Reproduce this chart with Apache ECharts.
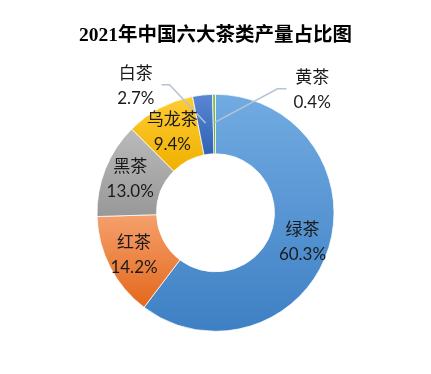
<!DOCTYPE html>
<html>
<head>
<meta charset="utf-8">
<script src="https://cdn.jsdelivr.net/npm/echarts@6/dist/echarts.min.js"></script>
<style>
html,body{margin:0;padding:0;background:#fff;}
#c{width:431px;height:374px;}
</style>
</head>
<body>
<div id="c"></div>
<script>
// ---- data ----
const titleText = '2021年中国六大茶类产量占比图';
const categories = ['绿茶', '红茶', '黑茶', '乌龙茶', '白茶', '黄茶'];
const shares = [60.3, 14.2, 13.0, 9.4, 2.7, 0.4];

// ---- styles ----
const gradTop = ['#72abe2', '#f5a06c', '#bababa', '#ffcc33', '#5a86d4', '#84c35c'];
const gradBot = ['#3e80c4', '#e3681c', '#989898', '#efb000', '#3062b4', '#5c9c38'];
const outsideIdx = [4, 5];
const CENTER = [0.5, 0.569];
const R_IN = 59, R_OUT = 118.5;
// label leader offsets relative to pie center: [elbowDx, elbowDy, endDx, endDy]
const leaders = {
  4: [-46, -128, -54, -128],
  5: [62, -124, 71, -124]
};
const labelFont = {
  fontFamily: "Lato, 'Noto Sans CJK SC'",
  fontSize: 17,
  lineHeight: 25,
  color: '#1a1a1a',
  align: 'center'
};

const chart = echarts.init(document.getElementById('c'), null, {renderer: 'canvas'});
const total = shares.reduce((a, b) => a + b, 0);
const fmt = p => p.name + '\n' + p.value.toFixed(1) + '%';

const baseData = categories.map((name, i) => ({
  name: name,
  value: shares[i],
  itemStyle: {
    color: new echarts.graphic.LinearGradient(0, 0, 0, 1, [
      {offset: 0, color: gradTop[i]},
      {offset: 1, color: gradBot[i]}
    ])
  }
}));

const overlayData = categories.map((name, i) => {
  const out = outsideIdx.includes(i);
  return {
    name: name,
    value: shares[i],
    label: {position: out ? 'outside' : 'inside'},
    labelLine: {show: out}
  };
});

function midAngle(idx) {
  let cum = 0;
  for (let i = 0; i < idx; i++) cum += shares[i];
  return ((cum + shares[idx] / 2) / total) * Math.PI * 2; // clockwise from top
}

const center = [(CENTER[0] * 100) + '%', (CENTER[1] * 100) + '%'];

chart.setOption({
  backgroundColor: '#ffffff',
  animation: false,
  title: {
    text: titleText,
    left: 'center',
    top: 21,
    textStyle: {
      fontFamily: "'Liberation Serif', 'Noto Sans CJK SC'",
      fontWeight: 'bold',
      fontSize: 19.5,
      color: '#000'
    }
  },
  series: [{
    type: 'pie',
    center: center,
    radius: [R_IN, R_OUT],
    startAngle: 90,
    clockwise: true,
    avoidLabelOverlap: false,
    itemStyle: {borderColor: '#ffffff', borderWidth: 0.75},
    label: {show: false},
    labelLine: {show: false},
    data: baseData,
    z: 2
  }, {
    type: 'pie',
    center: center,
    radius: [R_IN, R_OUT],
    startAngle: 90,
    clockwise: true,
    silent: true,
    avoidLabelOverlap: false,
    itemStyle: {color: 'rgba(0,0,0,0)', borderWidth: 0},
    label: Object.assign({show: true, formatter: fmt}, labelFont),
    labelLine: {
      length: 20,
      length2: 10,
      lineStyle: {color: '#b4c3d5', width: 1.5}
    },
    labelLayout: function (p) {
      const idx = p.dataIndex;
      if (!outsideIdx.includes(idx)) return {};
      const w = chart.getWidth(), h = chart.getHeight();
      const cx = w * CENTER[0], cy = h * CENTER[1];
      const a = midAngle(idx);
      const rm = (R_IN + R_OUT) / 2 + 1.5;
      const sx = cx + rm * Math.sin(a), sy = cy - rm * Math.cos(a);
      const L = leaders[idx];
      const ex = cx + L[0], ey = cy + L[1];
      const fx = cx + L[2], fy = cy + L[3];
      const gap = 7;
      const wlab = p.labelRect.width;
      const lx = L[2] < L[0] ? fx - gap - wlab / 2 : fx + gap + wlab / 2;
      return {
        x: lx,
        y: fy + 1,
        align: 'center',
        verticalAlign: 'middle',
        labelLinePoints: [[sx, sy], [ex, ey], [fx, fy]]
      };
    },
    data: overlayData,
    z: 5
  }]
});
</script>
</body>
</html>
